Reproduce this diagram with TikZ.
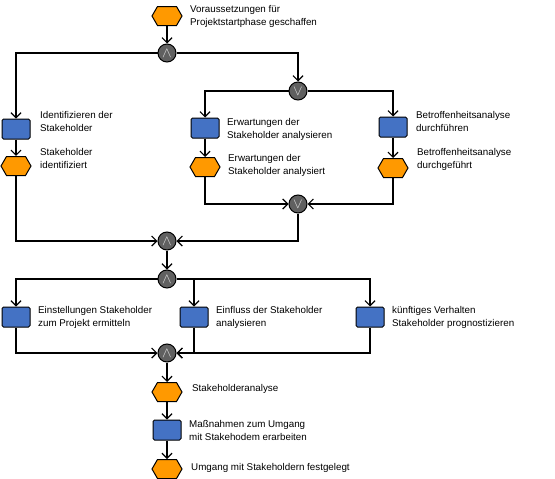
\documentclass[tikz,border=0pt]{standalone}
\usepackage{fontspec}
\setmainfont{Liberation Sans}
\usetikzlibrary{shapes.symbols,arrows.meta}
\definecolor{evtorange}{HTML}{FF9900}
\definecolor{fnblue}{HTML}{4472C4}
\definecolor{conngray}{HTML}{606060}
\tikzset{
  event/.style={signal, signal to=east and west, signal pointer angle=120,
    draw, fill=evtorange, minimum width=30pt, minimum height=19pt,
    inner sep=0pt, line width=1pt},
  func/.style={rectangle, rounded corners=1.5pt, draw, fill=fnblue,
    minimum width=28pt, minimum height=20pt, inner sep=0pt, line width=1pt},
  conn/.style={circle, draw, fill=conngray, minimum size=18pt, inner sep=0pt,
    text=gray!25, line width=1pt, font=\Large},
  txt/.style={anchor=west, align=left, inner sep=0pt,
    font=\fontsize{9.8}{13}\selectfont},
  flow/.style={line width=1.2pt, -{Straight Barb[length=5pt,width=10pt]}}
}
\begin{document}
\begin{tikzpicture}[x=1pt,y=-1pt]
  \useasboundingbox (0,0) rectangle (555,479);
  % start
  \node[event] (E0) at (167,16) {};
  \node[txt] (tE0) at (190,16) {Voraussetzungen für\\Projektstartphase geschaffen};
  \node[conn] (A1) at (167,53) {$\wedge$};
  \node[conn] (O1) at (298,91) {$\vee$};
  % left branch
  \node[func] (F1) at (16,129) {};
  \node[txt] (tF1) at (40,121) {Identifizieren der\\Stakeholder};
  \node[event] (E1) at (16,166) {};
  \node[txt] (tE1) at (40,158) {Stakeholder\\identifiziert};
  % middle branch
  \node[func] (F2) at (205,128) {};
  \node[txt] (tF2) at (227,129) {Erwartungen der\\Stakeholder analysieren};
  \node[event] (E2) at (205,167) {};
  \node[txt] (tE2) at (228,165) {Erwartungen der\\Stakeholder analysiert};
  % right branch
  \node[func] (F3) at (393,127) {};
  \node[txt] (tF3) at (416,121) {Betroffenheitsanalyse\\durchführen};
  \node[event] (E3) at (393,168) {};
  \node[txt] (tE3) at (417,159) {Betroffenheitsanalyse\\durchgeführt};
  % joins
  \node[conn] (O2) at (298,204) {$\vee$};
  \node[conn] (A2) at (167,241) {$\wedge$};
  \node[conn] (A3) at (167,279) {$\wedge$};
  % second row of functions
  \node[func] (F4) at (16,317) {};
  \node[txt] (tF4) at (38,317) {Einstellungen Stakeholder\\zum Projekt ermitteln};
  \node[func] (F5) at (194,317) {};
  \node[txt] (tF5) at (216,317) {Einfluss der Stakeholder\\analysieren};
  \node[func] (F6) at (370,317) {};
  \node[txt] (tF6) at (392,317) {künftiges Verhalten\\Stakeholder prognostizieren};
  \node[conn] (A4) at (167,353) {$\wedge$};
  % end
  \node[event] (E4) at (167,392) {};
  \node[txt] (tE4) at (192,389) {Stakeholderanalyse};
  \node[func] (F7) at (167,430) {};
  \node[txt] (tF7) at (189,430) {Maßnahmen zum Umgang\\mit Stakehodem erarbeiten};
  \node[event] (E5) at (167,469) {};
  \node[txt] (tE5) at (191,468) {Umgang mit Stakeholdern festgelegt};
  % flow
  \draw[flow] (E0) -- (A1);
  \draw[flow] (A1.west) -| (F1);
  \draw[flow] (A1.east) -| (O1);
  \draw[flow] (O1.west) -| (F2);
  \draw[flow] (O1.east) -| (F3);
  \draw[flow] (F1) -- (E1);
  \draw[flow] (F2) -- (E2);
  \draw[flow] (F3) -- (E3);
  \draw[flow] (E2) |- (O2);
  \draw[flow] (E3) |- (O2);
  \draw[flow] (E1) |- (A2);
  \draw[flow] (O2) |- (A2);
  \draw[flow] (A2) -- (A3);
  \draw[flow] (A3.west) -| (F4);
  \draw[flow] (A3.east) -| (F5);
  \draw[flow] (A3.east) -| (F6);
  \draw[flow] (F4) |- (A4);
  \draw[flow] (F5) |- (A4);
  \draw[flow] (F6) |- (A4);
  \draw[flow] (A4) -- (E4);
  \draw[flow] (E4) -- (F7);
  \draw[flow] (F7) -- (E5);
\end{tikzpicture}
\end{document}
